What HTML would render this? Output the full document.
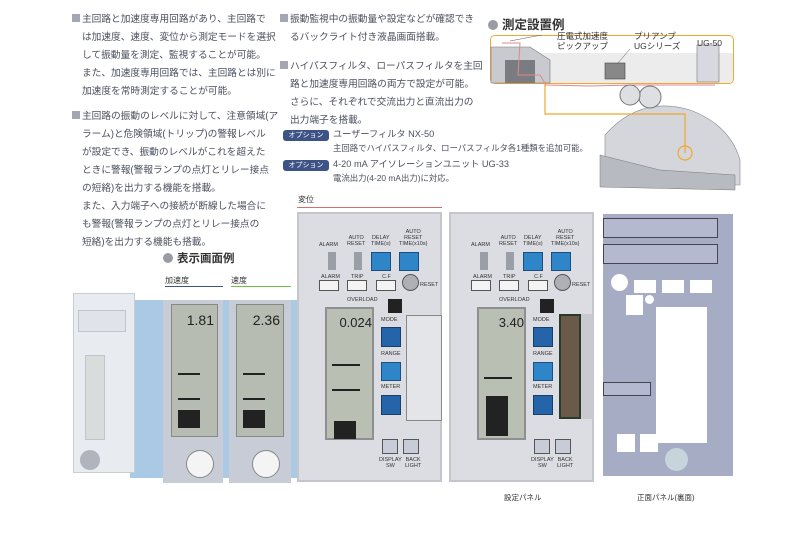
<!DOCTYPE html>
<html><head><meta charset="utf-8"><style>
*{margin:0;padding:0;box-sizing:border-box}
body{width:789px;height:533px;background:#fff;position:relative;overflow:hidden;font-family:"Liberation Sans","Noto Sans CJK JP",sans-serif;color:#4a4d5c}
.a{position:absolute}
.t{position:absolute;font-size:9.7px;line-height:18.2px;white-space:nowrap;color:#4d5060}
.sq{display:inline-block;width:8px;height:8px;background:#a4a6b2;margin-right:2px;vertical-align:-0px}
.badge{position:absolute;width:46px;height:11px;background:#3d5285;border-radius:3px;color:#fff;font-size:7px;line-height:11px;text-align:center}
.h{position:absolute;font-size:12.5px;font-weight:bold;color:#333}
.dot{display:inline-block;width:10px;height:10px;border-radius:50%;background:#9a9ca4;margin-right:4px;vertical-align:-1px}
.panel{position:absolute;width:145px;height:270px;background:#dcdde2;border:2px solid #c4c6cc}
.panel div{position:absolute}
.lcd{left:26px;top:93px;width:49px;height:133px;background:#b9bfb3;border:2px solid #8e8f92}
.kn{width:20px;height:19px;background:#2e86c8;border:1px solid #1c4f80}
.kn2{width:20px;height:20px;background:#2564a8;border:1px solid #183e6a}
.btn{width:20px;height:11px;background:#f4f4f4;border:1px solid #555}
.lb{font-size:5.5px;color:#333;line-height:6px;text-align:center}
.sm{font-size:7px;color:#333}
.num{font-family:"Liberation Sans",sans-serif;font-size:14px;color:#222;text-align:right}
</style></head><body>

<!-- left text -->
<div class="t" style="left:72px;top:11px"><span class="sq"></span>主回路と加速度専用回路があり、主回路で</div>
<div class="t" style="left:82px;top:29px">は加速度、速度、変位から測定モードを選択</div>
<div class="t" style="left:82px;top:47px">して振動量を測定、監視することが可能。</div>
<div class="t" style="left:82px;top:65px">また、加速度専用回路では、主回路とは別に</div>
<div class="t" style="left:82px;top:83px">加速度を常時測定することが可能。</div>
<div class="t" style="left:72px;top:108px"><span class="sq"></span>主回路の振動のレベルに対して、注意領域(ア</div>
<div class="t" style="left:82px;top:126px">ラーム)と危険領域(トリップ)の警報レベル</div>
<div class="t" style="left:82px;top:144px">が設定でき、振動のレベルがこれを超えた</div>
<div class="t" style="left:82px;top:162px">ときに警報(警報ランプの点灯とリレー接点</div>
<div class="t" style="left:82px;top:180px">の短絡)を出力する機能を搭載。</div>
<div class="t" style="left:82px;top:198px">また、入力端子への接続が断線した場合に</div>
<div class="t" style="left:82px;top:216px">も警報(警報ランプの点灯とリレー接点の</div>
<div class="t" style="left:82px;top:234px">短絡)を出力する機能も搭載。</div>

<!-- middle text -->
<div class="t" style="left:280px;top:11px"><span class="sq"></span>振動監視中の振動量や設定などが確認でき</div>
<div class="t" style="left:290px;top:29px">るバックライト付き液晶画面搭載。</div>
<div class="t" style="left:280px;top:58px"><span class="sq"></span>ハイパスフィルタ、ローパスフィルタを主回</div>
<div class="t" style="left:290px;top:76px">路と加速度専用回路の両方で設定が可能。</div>
<div class="t" style="left:290px;top:94px">さらに、それぞれで交流出力と直流出力の</div>
<div class="t" style="left:290px;top:112px">出力端子を搭載。</div>
<div class="badge" style="left:283px;top:130px">オプション</div>
<div class="t" style="left:333px;top:126px;font-size:9.2px;line-height:16px">ユーザーフィルタ NX-50</div>
<div class="t" style="left:333px;top:140px;font-size:8.4px;line-height:16px">主回路でハイパスフィルタ、ローパスフィルタ各1種類を追加可能。</div>
<div class="badge" style="left:283px;top:160px">オプション</div>
<div class="t" style="left:333px;top:156px;font-size:9.2px;line-height:16px">4-20 mA アイソレーションユニット UG-33</div>
<div class="t" style="left:333px;top:170px;font-size:8.4px;line-height:16px">電流出力(4-20 mA出力)に対応。</div>

<!-- measurement diagram -->
<div class="h" style="left:488px;top:14px"><span class="dot"></span>測定設置例</div>
<div class="a" style="left:490px;top:35px;width:244px;height:49px;border:1.5px solid #f0a830;border-radius:5px;background:#fff"></div>
<div class="a" style="left:491px;top:53px;width:242px;height:30px;background:#ececec;border-radius:0 0 5px 5px"></div>
<svg class="a" style="left:490px;top:35px" width="260" height="160">
<polygon points="1,12 40,12 60,25 60,48 1,48" fill="#c8cad0" stroke="#777" stroke-width=".6"/>
<polygon points="15,25 45,25 45,48 15,48" fill="#7a7c82"/>
<polyline points="12,8 30,8 28,40 50,40 56,50 100,51 140,50 225,50" fill="none" stroke="#e08888" stroke-width="1"/>
<rect x="115" y="28" width="20" height="16" fill="#888" stroke="#444" stroke-width=".6"/>
<rect x="207" y="10" width="22" height="37" fill="#d8d8e0" stroke="#777" stroke-width=".6"/>
<line x1="20" y1="6" x2="62" y2="-2" stroke="#555" stroke-width=".5"/>
<line x1="128" y1="28" x2="140" y2="14" stroke="#555" stroke-width=".5"/>
<path d="M115,150 L115,100 Q150,60 200,75 Q240,90 250,125 L250,150 Z" fill="#d4d6dc" stroke="#888" stroke-width=".6"/>
<circle cx="160" cy="62" r="11" fill="#dedfe3" stroke="#777"/>
<circle cx="140" cy="60" r="10" fill="#dedfe3" stroke="#777"/>
<path d="M110,120 L170,135 L245,140 L245,155 L110,152Z" fill="#b8bac2" stroke="#777" stroke-width=".5"/>
<polyline points="55,48 55,79 195,79 195,118" fill="none" stroke="#f0a830" stroke-width="1.2"/>
<circle cx="195" cy="118" r="7" fill="none" stroke="#f0a830" stroke-width="1.2"/>
</svg>
<div class="a sm" style="left:557px;top:32px;font-size:8.5px;line-height:9.5px;color:#333">圧電式加速度<br>ピックアップ</div>
<div class="a sm" style="left:634px;top:32px;font-size:8.5px;line-height:9.5px;color:#333">プリアンプ<br>UGシリーズ</div>
<div class="a sm" style="left:697px;top:38px;font-size:8.5px;color:#333">UG-50</div>

<!-- display examples -->
<div class="h" style="left:163px;top:250px;font-size:11.5px"><span class="dot"></span>表示画面例</div>
<div class="a sm" style="left:165px;top:275px;font-size:8px">加速度</div>
<div class="a" style="left:165px;top:286px;width:58px;height:1px;background:#3d5285"></div>
<div class="a sm" style="left:231px;top:275px;font-size:8px">速度</div>
<div class="a" style="left:231px;top:286px;width:60px;height:1px;background:#6cc040"></div>

<div class="a" style="left:130px;top:300px;width:170px;height:178px;background:#a9c9e4"></div>
<div class="a" style="left:73px;top:293px;width:62px;height:180px;background:#e8ecf0;border:1px solid #c8ccd4"></div>
<div class="a" style="left:78px;top:310px;width:48px;height:22px;border:1px solid #c0c4cc;background:#e0e4ea"></div>
<div class="a" style="left:85px;top:355px;width:20px;height:85px;background:#d8dcda;border:1px solid #c0c4cc"></div>
<div class="a" style="left:80px;top:450px;width:20px;height:20px;border-radius:50%;background:#b0b4bc"></div>

<div class="a" style="left:163px;top:300px;width:60px;height:183px;background:#c7ccd6"></div>
<div class="a" style="left:171px;top:304px;width:47px;height:133px;background:#b7bcb2;border:1px solid #888"></div>
<div class="a num" style="left:172px;top:312px;width:42px">1.81</div>
<div class="a" style="left:229px;top:300px;width:62px;height:183px;background:#c7ccd6"></div>
<div class="a" style="left:236px;top:304px;width:48px;height:133px;background:#b7bcb2;border:1px solid #888"></div>
<div class="a num" style="left:237px;top:312px;width:43px">2.36</div>
<div class="a" style="left:178px;top:410px;width:22px;height:18px;background:#222"></div>
<div class="a" style="left:243px;top:410px;width:22px;height:18px;background:#222"></div>
<div class="a" style="left:178px;top:373px;width:22px;height:2px;background:#222"></div>
<div class="a" style="left:243px;top:373px;width:22px;height:2px;background:#222"></div>
<div class="a" style="left:178px;top:398px;width:22px;height:2px;background:#222"></div>
<div class="a" style="left:243px;top:398px;width:22px;height:2px;background:#222"></div>
<div class="a" style="left:186px;top:450px;width:28px;height:28px;border-radius:50%;background:#f4f4f4;border:1px solid #888"></div>
<div class="a" style="left:252px;top:450px;width:28px;height:28px;border-radius:50%;background:#f4f4f4;border:1px solid #888"></div>

<!-- 変位 -->
<div class="a sm" style="left:298px;top:194px;font-size:8px">変位</div>
<div class="a" style="left:297px;top:207px;width:145px;height:1px;background:#d07070"></div>

<!-- panel 1 -->
<div class="panel" style="left:297px;top:212px">
 <div class="lb" style="left:20px;top:28px">ALARM</div><div class="lb" style="left:48px;top:21px">AUTO<br>RESET</div>
 <div class="lb" style="left:72px;top:21px">DELAY<br>TIME(s)</div><div class="lb" style="left:100px;top:15px">AUTO<br>RESET<br>TIME(x10s)</div>
 <div style="left:29px;top:38px;width:8px;height:18px;background:#9a9ea6"></div>
 <div style="left:55px;top:38px;width:8px;height:18px;background:#9a9ea6"></div>
 <div class="kn" style="left:72px;top:38px"></div><div class="kn" style="left:100px;top:38px"></div>
 <div class="lb" style="left:22px;top:60px">ALARM</div><div class="lb" style="left:52px;top:60px">TRIP</div><div class="lb" style="left:83px;top:60px">C.F</div>
 <div class="btn" style="left:20px;top:66px"></div><div class="btn" style="left:48px;top:66px"></div><div class="btn" style="left:77px;top:66px"></div>
 <div style="left:103px;top:60px;width:17px;height:17px;border-radius:50%;background:#aeb0b6;border:1px solid #555"></div>
 <div class="lb" style="left:121px;top:68px">RESET</div>
 <div class="lb" style="left:48px;top:83px">OVERLOAD</div>
 <div style="left:89px;top:85px;width:14px;height:14px;background:#222"></div>
 <div class="lcd"></div>
 <div class="num" style="left:28px;top:101px;width:45px;font-size:13px">0.024</div>
 <div style="left:35px;top:207px;width:22px;height:18px;background:#222"></div>
 <div style="left:33px;top:175px;width:28px;height:2px;background:#222"></div>
 <div style="left:33px;top:150px;width:28px;height:2px;background:#222"></div>
 <div class="lb" style="left:82px;top:103px">MODE</div><div class="kn2" style="left:82px;top:113px"></div>
 <div class="lb" style="left:82px;top:137px">RANGE</div><div class="kn" style="left:82px;top:148px"></div>
 <div class="lb" style="left:82px;top:170px">METER</div><div class="kn2" style="left:82px;top:181px"></div>
 <div style="left:107px;top:101px;width:36px;height:106px;border:1px solid #888;background:#e4e5e8"></div>
 <div class="btn" style="left:83px;top:225px;height:15px;width:16px;background:#c8ccd8"></div>
 <div class="btn" style="left:104px;top:225px;height:15px;width:16px;background:#c8ccd8"></div>
 <div class="lb" style="left:80px;top:243px">DISPLAY<br>SW</div><div class="lb" style="left:106px;top:243px">BACK<br>LIGHT</div>
</div>

<!-- panel 2 -->
<div class="panel" style="left:449px;top:212px">
 <div class="lb" style="left:20px;top:28px">ALARM</div><div class="lb" style="left:48px;top:21px">AUTO<br>RESET</div>
 <div class="lb" style="left:72px;top:21px">DELAY<br>TIME(s)</div><div class="lb" style="left:100px;top:15px">AUTO<br>RESET<br>TIME(x10s)</div>
 <div style="left:29px;top:38px;width:8px;height:18px;background:#9a9ea6"></div>
 <div style="left:55px;top:38px;width:8px;height:18px;background:#9a9ea6"></div>
 <div class="kn" style="left:72px;top:38px"></div><div class="kn" style="left:100px;top:38px"></div>
 <div class="lb" style="left:22px;top:60px">ALARM</div><div class="lb" style="left:52px;top:60px">TRIP</div><div class="lb" style="left:83px;top:60px">C.F</div>
 <div class="btn" style="left:20px;top:66px"></div><div class="btn" style="left:48px;top:66px"></div><div class="btn" style="left:77px;top:66px"></div>
 <div style="left:103px;top:60px;width:17px;height:17px;border-radius:50%;background:#aeb0b6;border:1px solid #555"></div>
 <div class="lb" style="left:121px;top:68px">RESET</div>
 <div class="lb" style="left:48px;top:83px">OVERLOAD</div>
 <div style="left:89px;top:85px;width:14px;height:14px;background:#222"></div>
 <div class="lcd"></div>
 <div class="num" style="left:28px;top:101px;width:45px;font-size:13px">3.40</div>
 <div style="left:35px;top:182px;width:22px;height:40px;background:#222"></div>
 <div style="left:33px;top:163px;width:28px;height:2px;background:#222"></div>
 <div class="lb" style="left:82px;top:103px">MODE</div><div class="kn2" style="left:82px;top:113px"></div>
 <div class="lb" style="left:82px;top:137px">RANGE</div><div class="kn" style="left:82px;top:148px"></div>
 <div class="lb" style="left:82px;top:170px">METER</div><div class="kn2" style="left:82px;top:181px"></div>
 <div style="left:108px;top:100px;width:22px;height:105px;background:#6a5a4a;border:2px solid #2a3a2a"></div>
 <div style="left:130px;top:100px;width:12px;height:105px;background:#c8cacf"></div>
 <div class="btn" style="left:83px;top:225px;height:15px;width:16px;background:#c8ccd8"></div>
 <div class="btn" style="left:104px;top:225px;height:15px;width:16px;background:#c8ccd8"></div>
 <div class="lb" style="left:80px;top:243px">DISPLAY<br>SW</div><div class="lb" style="left:106px;top:243px">BACK<br>LIGHT</div>
</div>

<!-- back panel -->
<div class="a" style="left:603px;top:214px;width:130px;height:262px;background:#a6acc4">
 <div class="a" style="left:0;top:4px;width:115px;height:20px;border:1px solid #445;background:#b4b9cf"></div>
 <div class="a" style="left:0;top:30px;width:115px;height:20px;border:1px solid #445;background:#b4b9cf"></div>
 <div class="a" style="left:8px;top:60px;width:17px;height:17px;border-radius:50%;background:#fff"></div>
 <div class="a" style="left:31px;top:66px;width:22px;height:13px;background:#fff"></div>
 <div class="a" style="left:59px;top:66px;width:22px;height:13px;background:#fff"></div>
 <div class="a" style="left:87px;top:66px;width:22px;height:13px;background:#fff"></div>
 <div class="a" style="left:23px;top:81px;width:17px;height:20px;background:#fff"></div>
 <div class="a" style="left:42px;top:81px;width:9px;height:9px;border-radius:50%;background:#fff"></div>
 <div class="a" style="left:53px;top:93px;width:51px;height:136px;background:#fff"></div>
 <div class="a" style="left:0;top:168px;width:48px;height:14px;border:1px solid #445;background:#b4b9cf"></div>
 <div class="a" style="left:14px;top:220px;width:18px;height:18px;background:#fff"></div>
 <div class="a" style="left:37px;top:220px;width:18px;height:18px;background:#fff"></div>
 <div class="a" style="left:62px;top:234px;width:23px;height:23px;border-radius:50%;background:#c8d4dc"></div>
</div>

<div class="a sm" style="left:504px;top:492px;font-size:7.5px">設定パネル</div>
<div class="a sm" style="left:637px;top:492px;font-size:7.5px">正面パネル(裏面)</div>
</body></html>
